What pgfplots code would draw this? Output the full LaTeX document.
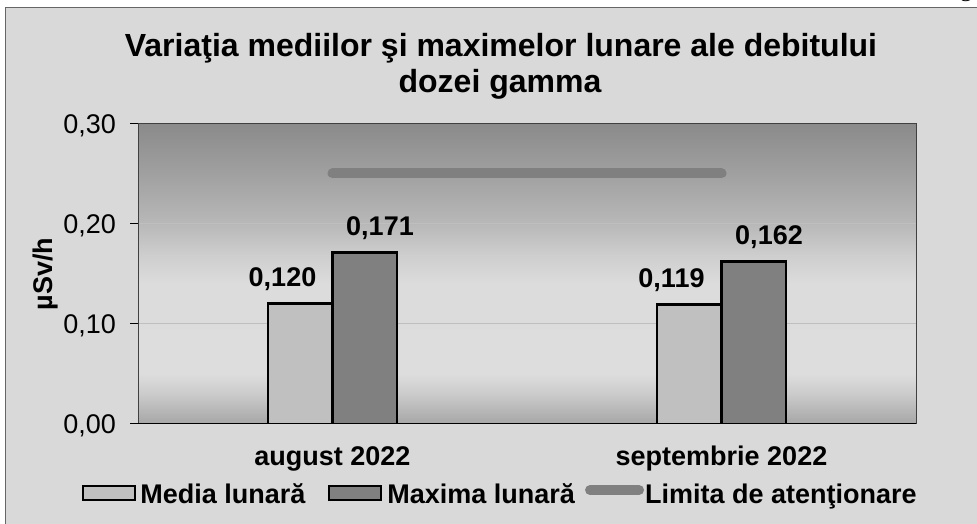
\documentclass[border=0pt]{standalone}
\usepackage{fontspec}
\setmainfont{Liberation Sans}
\newfontfamily\seriffont{Liberation Serif}
\usepackage{pgfplots}
\pgfplotsset{compat=1.18}

\definecolor{framebg}{HTML}{D9D9D9}
\definecolor{mediacol}{HTML}{C0C0C0}
\definecolor{maxcol}{HTML}{808080}
\definecolor{limitcol}{HTML}{808080}
\definecolor{gridcol}{HTML}{BFBFBF}
\definecolor{s0}{HTML}{A6A6A6}
\definecolor{s1}{HTML}{CBCBCB}
\definecolor{s2}{HTML}{DDDDDD}
\definecolor{s3}{HTML}{DCDCDC}
\definecolor{s4}{HTML}{CDCDCD}
\definecolor{s5}{HTML}{B8B8B8}
\definecolor{s6}{HTML}{A0A0A0}
\definecolor{s7}{HTML}{8A8A8A}
\pgfdeclareverticalshading{plotbg}{100bp}{color(0bp)=(s0); color(25bp)=(s0); color(30bp)=(s1); color(33.3bp)=(s2); color(48.3bp)=(s3); color(53.3bp)=(s4); color(58.3bp)=(s5); color(66.7bp)=(s6); color(75bp)=(s7); color(100bp)=(s7)}

\newcommand\tfont{\fontsize{27bp}{32bp}\selectfont}
\newcommand\bfont{\bfseries\fontsize{27bp}{32bp}\selectfont}

\pgfplotsset{
  barlegend/.style={legend image code/.code={\draw[##1, line width=2bp] (0bp,-6bp) rectangle (52bp,8bp);}},
  linelegend/.style={legend image code/.code={\draw[##1] (5bp,4bp) -- (54bp,4bp);}},
}

\begin{document}
\begin{tikzpicture}[x=1bp,y=1bp]
\useasboundingbox (0,0) rectangle (977,524);
\filldraw[fill=framebg, draw=black!60, line width=1bp] (5,516) rectangle (995,-20);
\node[font=\seriffont\fontsize{24bp}{28bp}\selectfont, anchor=base, inner sep=0pt] at (966,527) {g};
\node[font=\bfseries\fontsize{32bp}{38bp}\selectfont, anchor=base, inner sep=0pt] at (501,467) {Variaţia mediilor şi maximelor lunare ale debitului};
\node[font=\bfseries\fontsize{32bp}{38bp}\selectfont, anchor=base, inner sep=0pt] at (500,431) {dozei gamma};
\begin{axis}[
  at={(138bp,100bp)}, anchor=south west,
  scale only axis, width=778bp, height=300.7bp,
  xmin=-0.5, xmax=1.5, ymin=0, ymax=0.3,
  xtick={0,1}, xticklabels={august 2022, septembrie 2022},
  ytick={0,0.1,0.2,0.3},
  /pgf/number format/assume math mode=true,
  yticklabel={\pgfmathprintnumber[fixed,fixed zerofill,precision=2,use comma]{\tick}},
  ymajorgrids, grid style={draw=gridcol, line width=1bp},
  axis line style={draw=black!75, line width=1bp},
  tick align=outside, major tick length=8bp,
  ytick pos=left, xtick style={draw=none},
  ytick style={draw=black, line width=1bp},
  xticklabel style={font=\bfont, anchor=base, inner sep=0pt, yshift=-34bp},
  yticklabel style={font=\tfont, anchor=base east, inner sep=0pt, xshift=-14bp, yshift=-10bp},
  ylabel={µSv/h},
  every axis y label/.style={at={(axis description cs:-0.1105,0.4988)}, rotate=90, anchor=base, font=\bfont, inner sep=0pt},
  axis background/.style={shading=plotbg},
  legend columns=3,
  legend style={at={(axis description cs:0.4653,-0.233)}, anchor=center, draw=none, fill=none, font=\bfont,
    nodes={inner sep=1bp},
    /tikz/column 1/.style={column sep=3bp},
    /tikz/column 2/.style={column sep=22bp},
    /tikz/column 3/.style={column sep=4bp},
    /tikz/column 4/.style={column sep=9bp}},
]
\addplot[draw=limitcol, line width=10bp, line cap=round, sharp plot, mark=none, forget plot]
  coordinates {(0,0.25) (1,0.25)};
\addplot[ybar, bar width=0.166, bar shift=-0.083, fill=mediacol, draw=black, line width=2.5bp,
  nodes near coords, point meta=explicit symbolic,
  every node near coord/.append style={font=\bfont, anchor=base, inner sep=0pt, xshift=-50bp, yshift=17.5bp},
  barlegend]
  coordinates {(0,0.120) [0,120] (1,0.119) [0,119]};
\addplot[ybar, bar width=0.166, bar shift=0.083, fill=maxcol, draw=black, line width=2.5bp,
  nodes near coords, point meta=explicit symbolic,
  every node near coord/.append style={font=\bfont, anchor=base, inner sep=0pt, xshift=47.5bp, yshift=17.5bp},
  barlegend]
  coordinates {(0,0.171) [0,171] (1,0.162) [0,162]};
\addlegendimage{draw=limitcol, line width=10bp, line cap=round, linelegend}
\legend{Media lunară, Maxima lunară, Limita de atenţionare}
\draw[black, line width=2bp] (rel axis cs:0,0) -- (rel axis cs:1,0);
\end{axis}
\end{tikzpicture}
\end{document}
